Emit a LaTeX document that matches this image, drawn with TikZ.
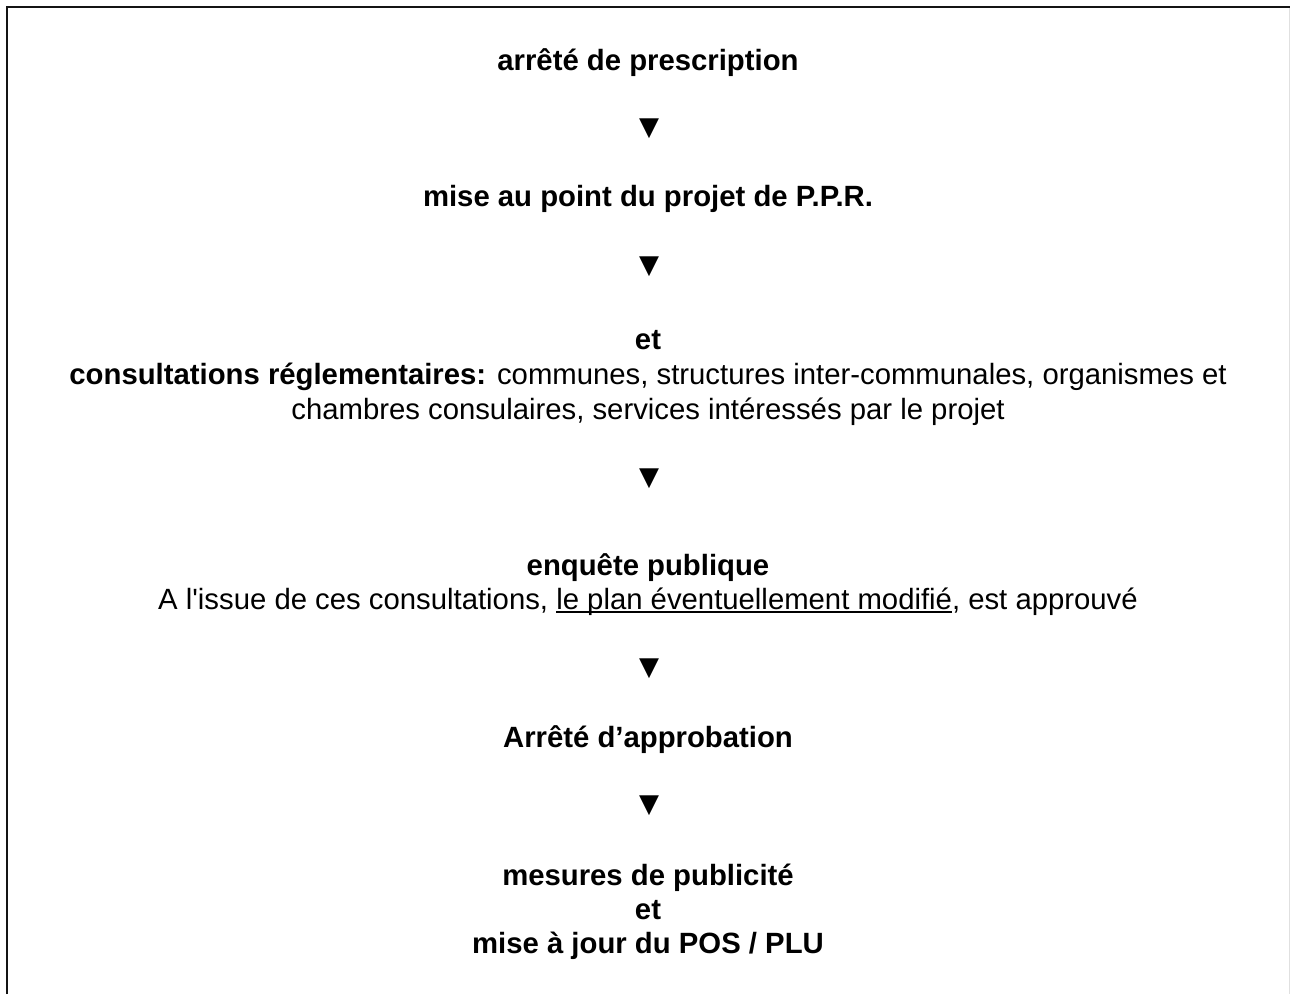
\documentclass[tikz,border=0pt]{standalone}
\usepackage{fontspec}
\setmainfont{Liberation Sans}[Ligatures=TeXOff]
\newfontfamily\symfont{DejaVu Sans}
\newcommand\ulx[1]{\setbox0\hbox{#1}\rlap{\rule[-3.4pt]{\wd0}{1.6pt}}\box0}
\begin{document}
\begin{tikzpicture}[x=1pt,y=-1pt,
  txt/.style={font=\fontsize{29.3pt}{34.5pt}\selectfont, inner sep=0pt, anchor=base},
  hd/.style={txt, font=\fontsize{29.3pt}{34.5pt}\selectfont\bfseries},
  tri/.style={font=\fontsize{26pt}{26pt}\symfont, inner sep=0pt},
  frame/.style={line width=2.3pt, black!92}]
\useasboundingbox (0,0) rectangle (1290,994);
\draw[frame] (7.2,994) -- (7.2,7.2) -- (1290,7.2);
\draw[black!12, line width=1pt] (1289.5,8) -- (1289.5,994);

\node[hd] (l1) at (648,70) {arrêté de prescription};
\node[tri] (t1) at (649,129) {▼};
\node[hd] (l2) at (648,206.5) {mise au point du projet de P.P.R.};
\node[tri] (t2) at (649,267) {▼};
\node[hd] (l3) at (648,349.5) {et};
\node[txt] (l4) at (648,384.5) {\textbf{consultations réglementaires:} communes, structures inter-communales, organismes et};
\node[txt] (l5) at (648,419.5) {chambres consulaires, services intéressés par le projet};
\node[tri] (t3) at (649,479) {▼};
\node[hd] (l6) at (648,575.5) {enquête publique};
\node[txt] (l7) at (648,609.5) {A l'issue de ces consultations, \ulx{le plan éventuellement modifié}, est approuvé};
\node[tri] (t4) at (649,669) {▼};
\node[hd] (l8) at (648,747.5) {Arrêté d’approbation};
\node[tri] (t5) at (649,806) {▼};
\node[hd] (l9) at (648,885.5) {mesures de publicité};
\node[hd] (l10) at (648,919.5) {et};
\node[hd] (l11) at (648,953.5) {mise à jour du POS / PLU};
\end{tikzpicture}
\end{document}
